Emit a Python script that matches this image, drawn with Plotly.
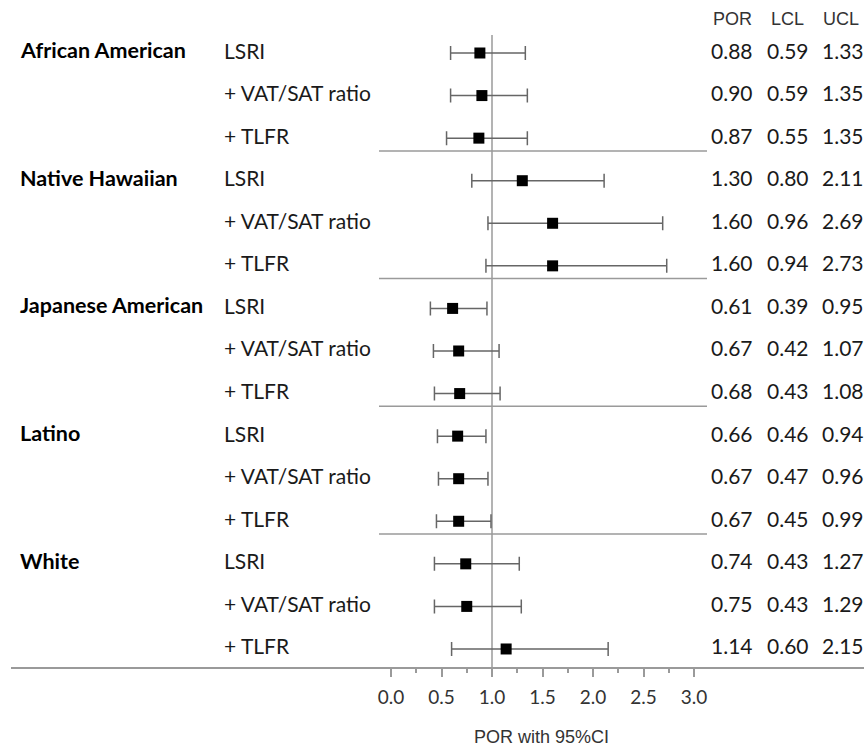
import plotly.graph_objects as go

# ---------------- data ----------------
groups = ["African American", "Native Hawaiian", "Japanese American", "Latino", "White"]
models = ["LSRI", "+ VAT/SAT ratio", "+ TLFR"]
por = [0.88, 0.90, 0.87, 1.30, 1.60, 1.60, 0.61, 0.67, 0.68, 0.66, 0.67, 0.67, 0.74, 0.75, 1.14]
lcl = [0.59, 0.59, 0.55, 0.80, 0.96, 0.94, 0.39, 0.42, 0.43, 0.46, 0.47, 0.45, 0.43, 0.43, 0.60]
ucl = [1.33, 1.35, 1.35, 2.11, 2.69, 2.73, 0.95, 1.07, 1.08, 0.94, 0.96, 0.99, 1.27, 1.29, 2.15]
tick_vals = [0.0, 0.5, 1.0, 1.5, 2.0, 2.5, 3.0]
tick_text = ["0.0", "0.5", "1.0", "1.5", "2.0", "2.5", "3.0"]
minor_vals = [0.25, 0.75, 1.25, 1.75, 2.25, 2.75]
col_headers = ["POR", "LCL", "UCL"]
x_title = "POR with 95%CI"

# ---------------- layout helpers ----------------
W, H = 864, 749
X0_PX, UNIT_PX = 391.0, 101.0        # pixel of x=0, pixels per unit
ROW0_PX, ROW_PX = 53.0, 42.57        # pixel of first row, row spacing
AXIS_PX = 667.0
LEFT_PX = 11.0

def xd(px):
    return (px - X0_PX) / UNIT_PX

def yd(px):
    return (px - ROW0_PX) / ROW_PX

n = len(por)
rows = list(range(n))
gray = "#9a9a9a"
err_col = "#666666"

fig = go.Figure()
fig.add_trace(go.Scatter(
    x=por, y=rows, mode="markers",
    marker=dict(symbol="square", size=11, color="black"),
    error_x=dict(type="data", symmetric=False,
                 array=[u - p for u, p in zip(ucl, por)],
                 arrayminus=[p - l for p, l in zip(por, lcl)],
                 color=err_col, thickness=1.5, width=7),
    showlegend=False, hoverinfo="skip",
))

shapes = []
# reference line at 1
shapes.append(dict(type="line", xref="x", yref="y", x0=1, x1=1,
                   y0=yd(35), y1=yd(AXIS_PX), line=dict(color=gray, width=1.5), layer="below"))
# group separators
for g in range(len(groups) - 1):
    ys = (g + 1) * len(models) - 1 + 0.3
    shapes.append(dict(type="line", xref="x", yref="y", x0=xd(379), x1=xd(707),
                       y0=ys, y1=ys, line=dict(color=gray, width=1.5), layer="below"))

ann = []
font_main = "Lato, Carlito, 'Open Sans', sans-serif"
font_arial = "'Liberation Sans', Arial, sans-serif"
for g, name in enumerate(groups):
    ann.append(dict(x=18 / W, xref="paper", y=g * len(models), yref="y", yshift=3,
                    text="<b>" + name + "</b>", showarrow=False, xanchor="left",
                    font=dict(family=font_main, size=21.5, color="black")))
for i in range(n):
    ann.append(dict(x=222 / W, xref="paper", y=i, yref="y", yshift=3,
                    text=models[i % len(models)], showarrow=False, xanchor="left",
                    font=dict(family=font_main, size=21, color="#1a1a1a")))
    for val, cx in zip((por[i], lcl[i], ucl[i]), (732, 787.5, 842.5)):
        ann.append(dict(x=cx / W, xref="paper", y=i, yref="y", yshift=3,
                        text=f"{val:.2f}", showarrow=False, xanchor="center",
                        font=dict(family=font_main, size=21, color="#1a1a1a")))
for h, cx in zip(col_headers, (732, 787, 841)):
    ann.append(dict(x=cx / W, xref="paper", y=1 - 19 / H, yref="paper",
                    text=h, showarrow=False, xanchor="center", yanchor="middle",
                    font=dict(family=font_arial, size=18, color="#333333")))
ann.append(dict(x=541 / W, xref="paper", y=1 - 737 / H, yref="paper",
                text=x_title, showarrow=False, xanchor="center", yanchor="middle",
                font=dict(family=font_arial, size=18, color="#333333")))

fig.update_layout(
    width=W, height=H,
    margin=dict(l=0, r=0, t=0, b=0),
    paper_bgcolor="white", plot_bgcolor="white",
    shapes=shapes, annotations=ann,
    xaxis=dict(
        domain=[LEFT_PX / W, 1], range=[xd(LEFT_PX), xd(W)],
        showgrid=False, zeroline=False,
        showline=True, linecolor=gray, linewidth=2,
        ticks="outside", ticklen=8, tickwidth=1.5, tickcolor=gray,
        tickvals=tick_vals, ticktext=tick_text,
        tickfont=dict(family=font_main, size=19, color="#333333"),
        ticklabelstandoff=4,
        minor=dict(tickvals=minor_vals, ticks="outside", ticklen=4,
                   tickwidth=1.5, tickcolor=gray, showgrid=False),
    ),
    yaxis=dict(
        domain=[(H - AXIS_PX) / H, 1], range=[yd(AXIS_PX), yd(0)],
        visible=False,
    ),
)

fig.write_html(
    "out.html",
    config={"displayModeBar": False},
    post_script="document.body.style.margin='0';document.body.style.padding='0';"
                "document.body.style.overflow='hidden';",
)
